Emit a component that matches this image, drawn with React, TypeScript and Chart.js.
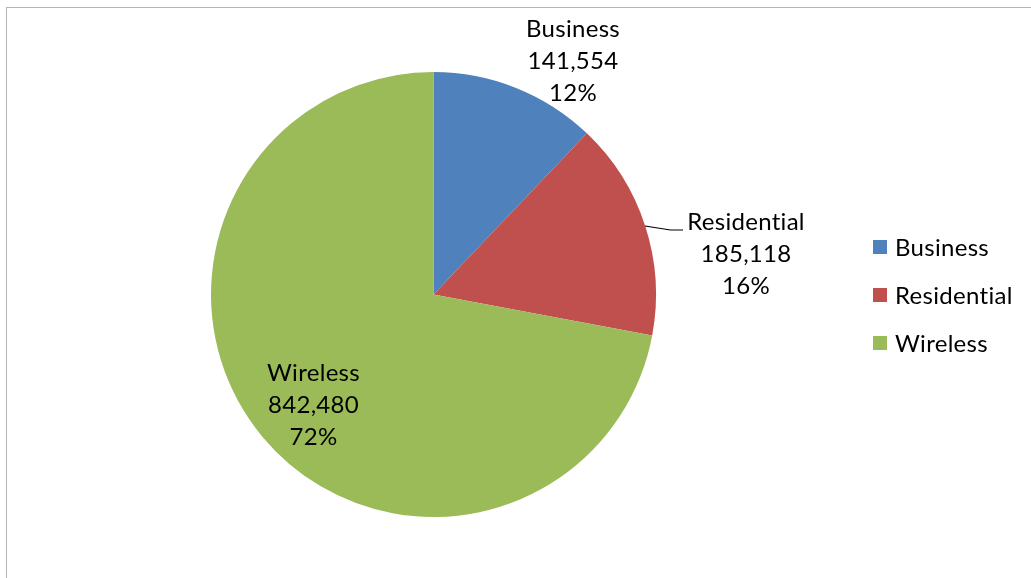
import React, { useEffect, useRef } from "react";
import { Chart, registerables } from "chart.js";

Chart.register(...registerables);

const categories = ["Business", "Residential", "Wireless"];
const values = [141554, 185118, 842480];
const percentLabels = ["12%", "16%", "72%"];
const colors = ["#4F81BD", "#C0504D", "#9BBB59"];

const FONT = "Lato, 'Noto Sans', sans-serif";
const FONT_SIZE = 24;
const LINE_GAP = 32;

// label center offsets (relative to pie center) for each slice, first line
const labelOffsets = [
  { dx: 139.5, dy: -265 },
  { dx: 312.5, dy: -72 },
  { dx: -120, dy: 79 },
];

function fmt(n: number) {
  return n.toLocaleString("en-US");
}

const labelPlugin = {
  id: "sliceLabels",
  afterDraw(chart: any) {
    const ctx = chart.ctx;
    const meta = chart.getDatasetMeta(0);
    const arc0 = meta.data[0];
    if (!arc0) return;
    const cx = arc0.x;
    const cy = arc0.y;
    ctx.save();
    ctx.font = `${FONT_SIZE}px ${FONT}`;
    try {
      (ctx as any).letterSpacing = "0.3px";
    } catch (e) {}
    ctx.fillStyle = "#000000";
    ctx.textAlign = "center";
    ctx.textBaseline = "middle";
    categories.forEach((c, i) => {
      const o = labelOffsets[i];
      const x = cx + o.dx;
      const y = cy + o.dy;
      ctx.fillText(c, x, y);
      ctx.fillText(fmt(values[i]), x, y + LINE_GAP);
      ctx.fillText(percentLabels[i], x, y + LINE_GAP * 2);
    });
    // leader line for Residential
    ctx.strokeStyle = "#000000";
    ctx.lineWidth = 1.2;
    ctx.beginPath();
    ctx.moveTo(cx + 211.5, cy - 68.5);
    ctx.lineTo(cx + 237, cy - 64.5);
    ctx.lineTo(cx + 249.5, cy - 64.5);
    ctx.stroke();

    // legend
    ctx.textAlign = "left";
    categories.forEach((c, i) => {
      const ly = 247 + i * 48;
      ctx.fillStyle = colors[i];
      ctx.fillRect(873, ly - 7, 14, 14);
      ctx.fillStyle = "#000000";
      ctx.fillText(c, 895, ly + 1);
    });
    ctx.restore();
  },
};

export default function App() {
  const ref = useRef<HTMLCanvasElement | null>(null);
  useEffect(() => {
    if (!ref.current) return;
    const chart = new Chart(ref.current, {
      type: "pie",
      data: {
        labels: categories,
        datasets: [
          {
            data: values,
            backgroundColor: colors,
            borderWidth: 0,
          },
        ],
      },
      options: {
        animation: false,
        responsive: false,
        maintainAspectRatio: false,
        layout: { padding: { left: 211, right: 375, top: 72, bottom: 61 } },
        plugins: {
          legend: { display: false },
          tooltip: { enabled: false },
        },
      },
      plugins: [labelPlugin],
    });
    return () => chart.destroy();
  }, []);
  return (
    <div style={{ position: "fixed", left: 0, top: 0, width: 1031, height: 578, background: "#fff", overflow: "hidden" }}>
      <div
        style={{
          position: "absolute",
          left: 6,
          top: 7,
          width: 1100,
          height: 700,
          borderLeft: "1.5px solid #b4b4b4",
          borderTop: "1.5px solid #b4b4b4",
        }}
      />
      <canvas ref={ref} width={1031} height={578} style={{ position: "absolute", left: 0, top: 0 }} />
    </div>
  );
}
